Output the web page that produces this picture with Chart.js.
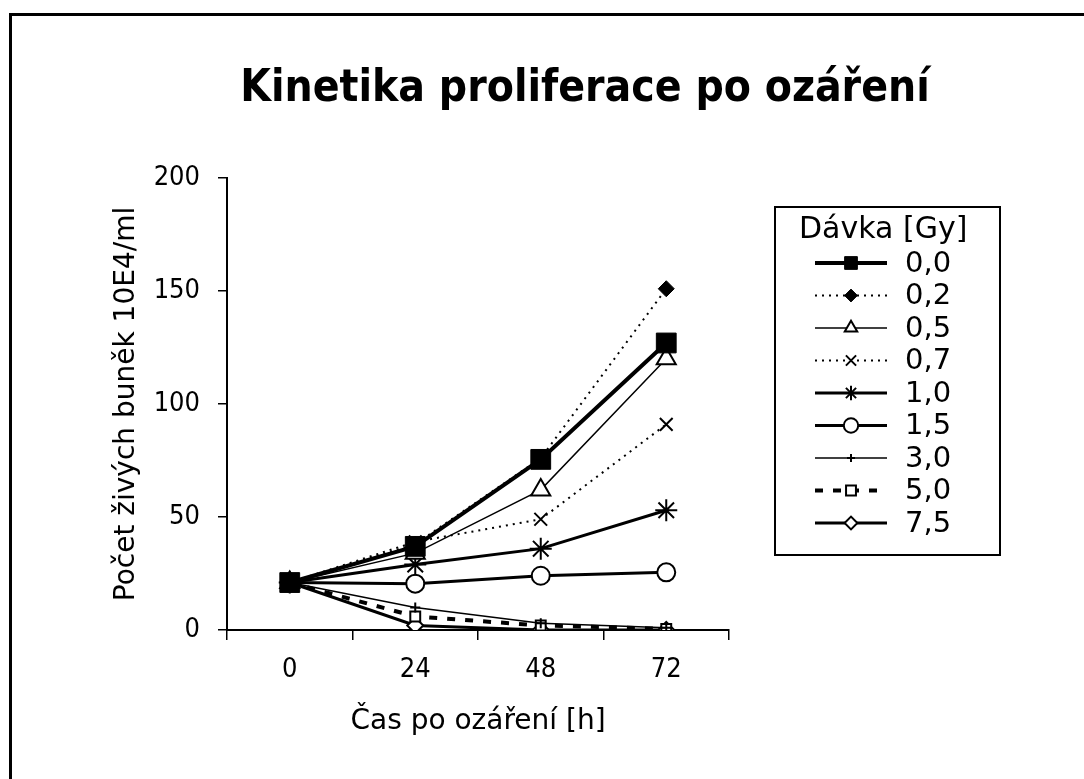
<!DOCTYPE html>
<html>
<head>
<meta charset="utf-8">
<script src="https://cdn.jsdelivr.net/npm/chart.js@4/dist/chart.umd.min.js"></script>
<style>
  html, body { margin: 0; padding: 0; background: #fff; }
  #wrap { position: relative; width: 1084px; height: 779px; overflow: hidden; }
  #frame { position: absolute; left: 9px; top: 13px; right: -10px; bottom: -10px;
           border-left: 3px solid #000; border-top: 3px solid #000; pointer-events: none; }
  canvas { position: absolute; left: 0; top: 0; }
</style>
</head>
<body>
<div id="wrap">
  <canvas id="c" width="1084" height="779"></canvas>
  <div id="frame"></div>
</div>
<script>
// Sampling times after irradiation [h]
const times = ['0', '24', '48', '72'];

// Dose labels [Gy]
const doses = ['0,0', '0,2', '0,5', '0,7', '1,0', '1,5', '3,0', '5,0', '7,5'];

// Viable cell counts (10E4/ml) per dose
const dose00 = [21, 37, 75.5, 127];
const dose02 = [21, 38, 76, 151];
const dose05 = [21, 34, 62, 120];
const dose07 = [21, 39, 49, 91];
const dose10 = [21, 29, 36, 53];
const dose15 = [21, 20.5, 24, 25.5];
const dose30 = [21, 10, 3, 1];
const dose50 = [21, 6, 2, 0.5];
const dose75 = [21, 2, 0, 0];

const yTicks = [0, 50, 100, 150, 200];

const seriesValues = [dose00, dose02, dose05, dose07, dose10, dose15, dose30, dose50, dose75];

// Per-series line and marker styling
const styles = [
  { lw: 4,   dash: [],      ps: 'rect',     r: 14, fill: '#000', bw: 1 },
  { lw: 2,   dash: [2, 5],  ps: 'rectRot',  r: 8,  fill: '#000', bw: 1 },
  { lw: 1.5, dash: [],      ps: 'triangle', r: 11, fill: '#fff', bw: 2 },
  { lw: 2,   dash: [2, 5],  ps: 'crossRot', r: 9,  fill: '#fff', bw: 2 },
  { lw: 3,   dash: [],      ps: 'star',     r: 11, fill: '#fff', bw: 2 },
  { lw: 3,   dash: [],      ps: 'circle',   r: 9,  fill: '#fff', bw: 2 },
  { lw: 1.5, dash: [],      ps: 'cross',    r: 5,  fill: '#fff', bw: 2 },
  { lw: 4,   dash: [8, 10], ps: 'rect',     r: 7,  fill: '#fff', bw: 2 },
  { lw: 3,   dash: [],      ps: 'rectRot',  r: 8,  fill: '#fff', bw: 2 }
];

const datasets = seriesValues.map((vals, i) => ({
  label: doses[i],
  data: vals,
  borderColor: '#000',
  borderWidth: styles[i].lw,
  borderDash: styles[i].dash,
  pointStyle: styles[i].ps,
  pointRadius: styles[i].r,
  pointHoverRadius: styles[i].r,
  pointBackgroundColor: styles[i].fill,
  pointBorderColor: '#000',
  pointBorderWidth: styles[i].bw,
  tension: 0,
  fill: false
}));

const FONT = "'DejaVu Sans', Verdana, sans-serif";
const COND_FONT = "'DejaVu Sans Condensed', 'Liberation Sans Narrow', 'DejaVu Sans', sans-serif";

// Chart heading drawn above the plot
const headingPlugin = {
  id: 'heading',
  afterDraw(chart) {
    const ctx = chart.ctx;
    ctx.save();
    ctx.fillStyle = '#000';
    ctx.font = 'bold 44px ' + COND_FONT;
    ctx.textAlign = 'center';
    ctx.textBaseline = 'alphabetic';
    ctx.fillText('Kinetika proliferace po ozáření', 585, 101);
    ctx.restore();
  }
};

// Boxed legend with a heading, one row per dose
const doseLegendPlugin = {
  id: 'doseLegend',
  afterDraw(chart) {
    const ctx = chart.ctx;
    const box = { x: 775, y: 207, w: 225, h: 348 };
    ctx.save();
    ctx.strokeStyle = '#000';
    ctx.lineWidth = 2;
    ctx.strokeRect(box.x, box.y, box.w, box.h);

    ctx.fillStyle = '#000';
    ctx.font = '30px ' + FONT;
    ctx.textBaseline = 'middle';
    ctx.textAlign = 'left';
    ctx.fillText('Dávka [Gy]', 799, 230);

    const rowY0 = 263, rowStep = 32.5;
    const x1 = 815, x2 = 887, xm = 851, xt = 905;
    chart.data.datasets.forEach((ds, i) => {
      const y = rowY0 + i * rowStep;
      ctx.save();
      ctx.strokeStyle = '#000';
      ctx.lineWidth = ds.borderWidth;
      ctx.setLineDash(ds.borderDash || []);
      ctx.beginPath();
      ctx.moveTo(x1, y);
      ctx.lineTo(x2, y);
      ctx.stroke();
      ctx.setLineDash([]);
      const r = Math.min(ds.pointRadius, 9);
      const opts = {
        pointStyle: ds.pointStyle,
        radius: ds.pointStyle === 'rect' ? r * 1.0 : r * 0.8,
        borderWidth: ds.pointBorderWidth,
        rotation: 0
      };
      ctx.fillStyle = ds.pointBackgroundColor;
      ctx.strokeStyle = ds.pointBorderColor;
      ctx.lineWidth = ds.pointBorderWidth;
      if (Chart.helpers && Chart.helpers.drawPoint) {
        Chart.helpers.drawPoint(ctx, opts, xm, y);
      }
      ctx.restore();
      ctx.fillStyle = '#000';
      ctx.font = '29px ' + FONT;
      ctx.textBaseline = 'middle';
      ctx.fillText(ds.label, xt, y + 1);
    });
    ctx.restore();
  }
};

new Chart(document.getElementById('c'), {
  type: 'line',
  data: { labels: times, datasets: datasets },
  options: {
    responsive: false,
    animation: false,
    devicePixelRatio: 1,
    layout: { padding: { top: 178, right: 355, bottom: 0, left: 0 } },
    plugins: {
      legend: { display: false },
      title: { display: false },
      tooltip: { enabled: false }
    },
    scales: {
      x: {
        type: 'category',
        offset: true,
        afterFit(scale) { scale.height = 149; },
        grid: { offset: true, drawOnChartArea: false, drawTicks: true, tickLength: 10, color: '#000', lineWidth: 1.5 },
        border: { display: true, color: '#000', width: 2 },
        ticks: { color: '#000', padding: 14, font: { family: COND_FONT, size: 27 }, maxRotation: 0 },
        title: { display: true, text: 'Čas po ozáření [h]', color: '#000',
                 font: { family: FONT, size: 28 }, padding: { top: 0, bottom: 40 } }
      },
      y: {
        min: 0,
        max: 200,
        afterFit(scale) { scale.width = 227; },
        afterBuildTicks(scale) { scale.ticks = yTicks.map(v => ({ value: v })); },
        grid: { drawOnChartArea: false, drawTicks: true, tickLength: 9, color: '#000', lineWidth: 1.5 },
        border: { display: true, color: '#000', width: 2 },
        ticks: { color: '#000', padding: 18, font: { family: COND_FONT, size: 27 } },
        title: { display: true, text: 'Počet živých buněk 10E4/ml', color: '#000',
                 font: { family: FONT, size: 28 }, padding: { top: 110, bottom: 0 } }
      }
    }
  },
  plugins: [headingPlugin, doseLegendPlugin]
});
</script>
</body>
</html>
